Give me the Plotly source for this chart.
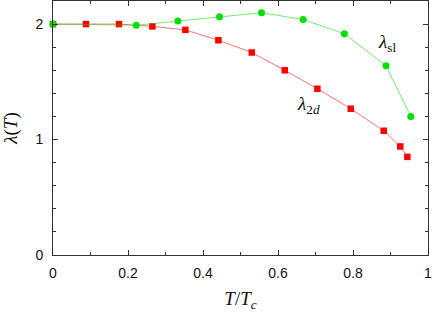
import plotly.graph_objects as go

# lambda_2d (red squares)
t_2d = [0.0, 0.088, 0.176, 0.265, 0.353, 0.441, 0.53, 0.618, 0.705, 0.794, 0.882, 0.926, 0.945]
lam_2d = [2.0, 2.0, 2.0, 1.98, 1.95, 1.86, 1.754, 1.60, 1.44, 1.267, 1.076, 0.94, 0.85]

# lambda_sl (green circles)
t_sl = [0.0, 0.222, 0.333, 0.444, 0.556, 0.667, 0.777, 0.888, 0.954]
lam_sl = [2.0, 1.99, 2.026, 2.063, 2.098, 2.04, 1.916, 1.64, 1.2]

xticks = [0, 0.2, 0.4, 0.6, 0.8, 1]
xticklabels = ["0", "0.2", "0.4", "0.6", "0.8", "1"]
yticks = [0, 1, 2]
yticklabels = ["0", "1", "2"]

fig = go.Figure()
fig.add_trace(go.Scatter(
    x=t_2d, y=lam_2d, mode="lines+markers",
    line=dict(color="rgba(255,0,0,0.55)", width=1),
    marker=dict(symbol="square", size=6.5, color="#ff0000"),
    showlegend=False, cliponaxis=False))
fig.add_trace(go.Scatter(
    x=t_sl, y=lam_sl, mode="lines+markers",
    line=dict(color="rgba(0,220,0,0.55)", width=1),
    marker=dict(symbol="circle", size=7, color="#00e000"),
    showlegend=False, cliponaxis=False))

serif = "Liberation Serif"
fig.add_annotation(x=0.89, y=1.84, xref="x", yref="y", showarrow=False,
                   text="<i>λ</i><sub>sl</sub>", font=dict(family=serif, size=19, color="#111"))
fig.add_annotation(x=0.68, y=1.30, xref="x", yref="y", showarrow=False,
                   text="<i>λ</i><sub>2<i>d</i></sub>", font=dict(family=serif, size=19, color="#111"))

axis_common = dict(showgrid=False, zeroline=False, showline=True, linecolor="#333",
                   linewidth=1, mirror="ticks", ticks="inside", tickcolor="#333",
                   ticklen=5, automargin=False,
                   tickfont=dict(family="Liberation Sans", size=14, color="#111"))

fig.update_xaxes(range=[0, 1], tickvals=xticks, ticktext=xticklabels,
                 ticklabelstandoff=5,
                 minor=dict(dtick=0.1, tick0=0, ticks="inside", ticklen=3, tickcolor="#333"),
                 title=dict(text="<i>T</i>/<i>T</i><sub><i>c</i></sub>",
                            font=dict(family=serif, size=19, color="#111"), standoff=11),
                 **axis_common)
fig.update_yaxes(range=[0, 2.2], tickvals=yticks, ticktext=yticklabels,
                 ticklabelstandoff=6,
                 minor=dict(dtick=0.2, tick0=0, ticks="inside", ticklen=3, tickcolor="#333"),
                 title=dict(text="<i>λ</i>(<i>T</i>)",
                            font=dict(family=serif, size=19, color="#111"), standoff=16),
                 **axis_common)

fig.update_layout(width=436, height=314, margin=dict(l=53, r=8, t=1, b=59),
                  plot_bgcolor="white", paper_bgcolor="white")
fig.write_html("out.html", config={"displayModeBar": False},
               post_script="document.body.style.margin='0';")
